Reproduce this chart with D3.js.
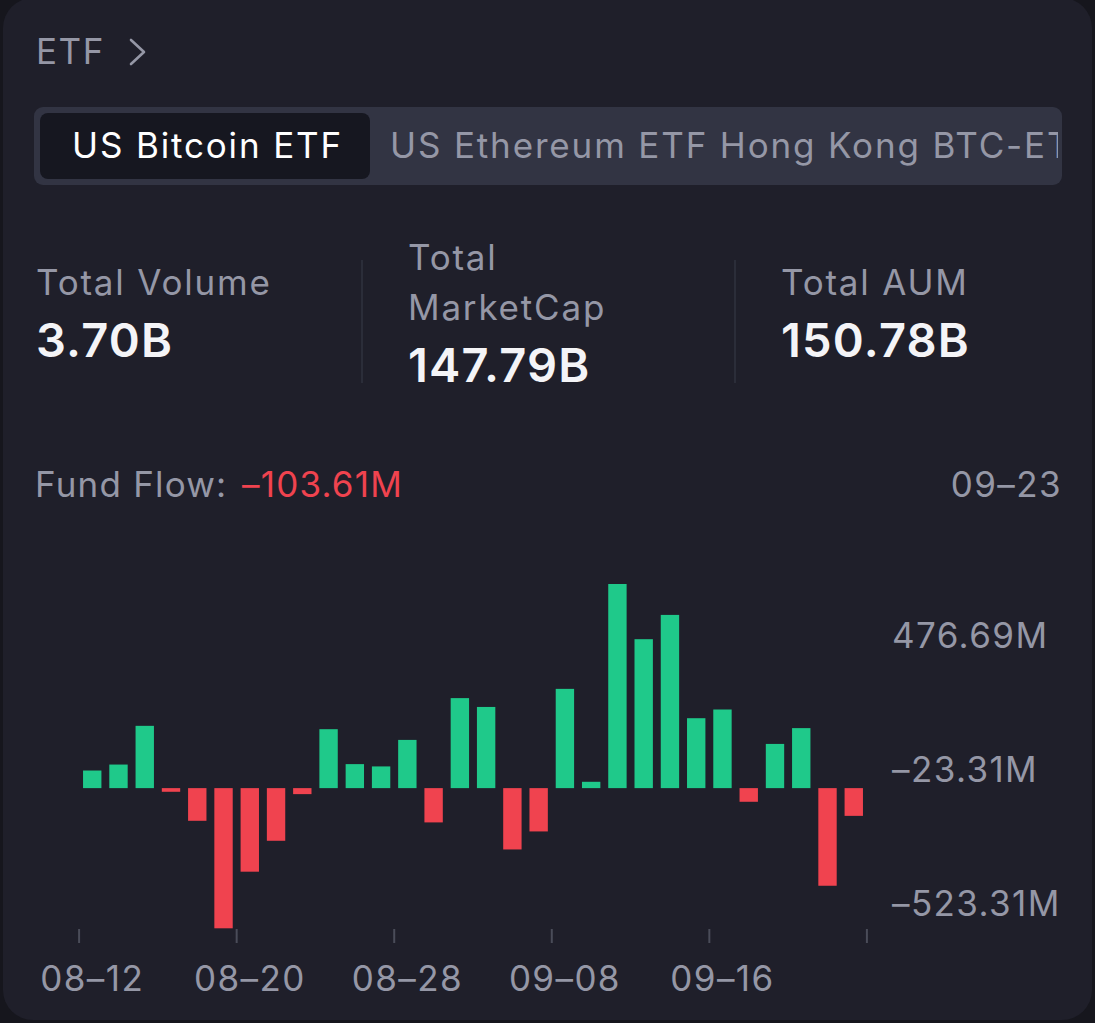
<!DOCTYPE html>
<html>
<head>
<meta charset="utf-8">
<script src="https://cdn.jsdelivr.net/npm/d3@7"></script>
<style>
  html, body { margin: 0; padding: 0; background: #16161d; }
  svg { display: block; font-family: Inter, "Noto Sans", sans-serif; }
</style>
</head>
<body>
<div id="chart"></div>
<script>
// ---- data ----
const dates = [
  "08-12", "08-13", "08-14", "08-15", "08-16", "08-19", "08-20", "08-21", "08-22", "08-23",
  "08-26", "08-27", "08-28", "08-29", "08-30", "09-03", "09-04", "09-05", "09-08", "09-09",
  "09-10", "09-11", "09-12", "09-13", "09-16", "09-17", "09-18", "09-19", "09-20", "09-23"
];
// daily net flow, million USD
const flows = [
  65.7, 88, 232.5, -13.7, -122, -523.31, -312, -196.6, -22.4, 220,
  89.6, 81, 180, -128, 336, 303, -229, -161.7, 370.5, 23.6,
  762, 556, 646.6, 261, 293.5, -51, 165, 224, -364.5, -103.61
];
const xTickLabels = ["08-12", "08-20", "08-28", "09-08", "09-16"];
const tickEvery = 6;

const tabs = ["US Bitcoin ETF", "US Ethereum ETF", "Hong Kong BTC-ETF"];
const statLabels = [["Total Volume"], ["Total", "MarketCap"], ["Total AUM"]];
const statValues = ["3.70B", "147.79B", "150.78B"];

const width = 1095, height = 1023;
const green = "#1fc98a", red = "#f0434f";
const grey = "#9597a6";
const dash = s => s.replace(/-/g, "\u2013");

const svg = d3.select("#chart")
  .append("svg")
    .attr("width", width)
    .attr("height", height);

// card
svg.append("rect")
  .attr("x", 3).attr("y", -2)
  .attr("width", 1089).attr("height", 1022)
  .attr("rx", 30)
  .attr("fill", "#1f1f2a");

// header
svg.append("text")
  .attr("x", 36).attr("y", 64)
  .attr("fill", grey)
  .style("font-size", "35px")
  .style("letter-spacing", "1.5px")
  .text("ETF");
svg.append("path")
  .attr("d", "M131,40 L144,52 L131,64")
  .attr("fill", "none")
  .attr("stroke", grey)
  .attr("stroke-width", 2.6)
  .attr("stroke-linecap", "round")
  .attr("stroke-linejoin", "round");

// tabs
svg.append("clipPath").attr("id", "tabclip")
  .append("rect").attr("x", 34).attr("y", 107).attr("width", 1024).attr("height", 78);
svg.append("rect")
  .attr("x", 34).attr("y", 107)
  .attr("width", 1028).attr("height", 78)
  .attr("rx", 9)
  .attr("fill", "#323443");
svg.append("rect")
  .attr("x", 40).attr("y", 113)
  .attr("width", 330).attr("height", 66)
  .attr("rx", 8)
  .attr("fill", "#161720");
const tabRow = svg.append("text")
  .attr("y", 158)
  .attr("clip-path", "url(#tabclip)")
  .style("font-size", "35px")
  .style("letter-spacing", "1.85px");
tabRow.append("tspan").attr("x", 72).attr("fill", "#ffffff").text(tabs[0]);
tabRow.append("tspan").attr("x", 390).attr("fill", grey).text(tabs.slice(1).join(" "));

// stats
const statX = [36, 408, 781];
statLabels.forEach((lines, i) => {
  const firstBase = lines.length > 1 ? 270 : 295;
  lines.forEach((line, j) => {
    svg.append("text")
      .attr("x", statX[i]).attr("y", firstBase + j * 50)
      .attr("fill", grey)
      .style("font-size", "35px")
      .style("letter-spacing", "1.8px")
      .text(line);
  });
  svg.append("text")
    .attr("x", statX[i]).attr("y", lines.length > 1 ? 382 : 357)
    .attr("fill", "#f4f4f7")
    .style("font-size", "47px")
    .style("font-weight", 600)
    .style("letter-spacing", "1.2px")
    .text(statValues[i]);
});
[362, 735].forEach(x => {
  svg.append("line")
    .attr("x1", x).attr("x2", x)
    .attr("y1", 260).attr("y2", 383)
    .attr("stroke", "#2b2d39")
    .attr("stroke-width", 2);
});

// fund flow title
const last = flows[flows.length - 1];
const flowTitle = svg.append("text")
  .attr("x", 35).attr("y", 497)
  .style("font-size", "35px")
  .style("letter-spacing", "1.2px");
flowTitle.append("tspan").attr("fill", grey).text("Fund Flow:");
flowTitle.append("tspan")
  .attr("x", 242)
  .attr("fill", last < 0 ? red : green)
  .text((last < 0 ? "\u2013" : "") + Math.abs(last).toFixed(2) + "M");
svg.append("text")
  .attr("x", 1062).attr("y", 497)
  .attr("text-anchor", "end")
  .attr("fill", grey)
  .style("font-size", "35px")
  .style("letter-spacing", "1.4px")
  .text(dash(dates[dates.length - 1]));

// scales
const xScale = d3.scaleBand()
  .domain(dates)
  .range([79.1, 866.9])
  .paddingInner(0.3)
  .paddingOuter(0.15);

const yMin = d3.min(flows);
const yMax = d3.max(flows);
const yScale = d3.scaleLinear()
  .domain([yMin, yMax])
  .range([928.3, 584]);

// bars
svg.append("g")
    .attr("class", "bars")
  .selectAll("rect")
  .data(flows)
  .join("rect")
    .attr("x", (d, i) => xScale(dates[i]))
    .attr("width", xScale.bandwidth())
    .attr("y", d => yScale(Math.max(0, d)))
    .attr("height", d => Math.abs(yScale(d) - yScale(0)))
    .attr("fill", d => d >= 0 ? green : red);

// y labels (min, min + 500, min + 1000)
const yTicks = [yMin + 1000, yMin + 500, yMin];
svg.append("g")
    .attr("class", "y-labels")
  .selectAll("text")
  .data(yTicks)
  .join("text")
    .attr("x", 892)
    .attr("y", d => yScale(d) - 12)
    .attr("fill", grey)
    .style("font-size", "35px")
    .style("letter-spacing", "1.4px")
    .text(d => (d < 0 ? "\u2013" : "") + Math.abs(d).toFixed(2) + "M");

// x tick marks at band boundaries
const step = xScale.step();
const x0 = xScale.range()[0];
const boundaries = d3.range(0, dates.length + 1, tickEvery);
svg.append("g")
    .attr("class", "x-ticks")
  .selectAll("line")
  .data(boundaries)
  .join("line")
    .attr("x1", i => x0 + i * step)
    .attr("x2", i => x0 + i * step)
    .attr("y1", 929)
    .attr("y2", 943)
    .attr("stroke", "#4a4c59")
    .attr("stroke-width", 2);

// x labels
const bottomAxis = d3.axisBottom(xScale)
  .tickValues(xTickLabels)
  .tickSize(0)
  .tickPadding(0)
  .tickFormat(dash);
const xAxis = svg.append("g")
  .attr("class", "x-axis")
  .attr("transform", "translate(0, 966)")
  .call(bottomAxis);
xAxis.select(".domain").remove();
xAxis.selectAll("text")
  .attr("fill", grey)
  .attr("dy", "0.72em")
  .style("font-family", "Inter, 'Noto Sans', sans-serif")
  .style("font-size", "35px")
  .style("letter-spacing", "1.4px");
</script>
</body>
</html>
